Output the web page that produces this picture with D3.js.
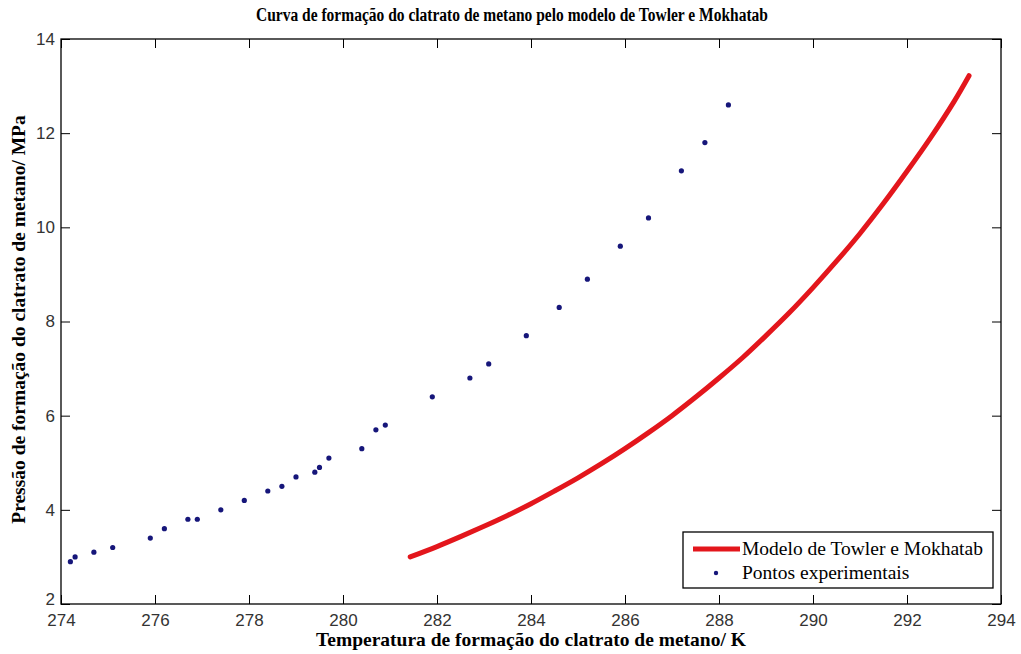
<!DOCTYPE html>
<html>
<head>
<meta charset="utf-8">
<script src="https://cdn.jsdelivr.net/npm/d3@7"></script>
<style>
  html, body { margin: 0; padding: 0; background: #fff; }
  svg { display: block; }
</style>
</head>
<body>
<svg id="chart" width="1021" height="654"></svg>
<script>
// Experimental hydrate formation points (temperature in K, pressure in MPa)
const expTemp = [274.2, 274.3, 274.7, 275.1, 275.9, 276.2, 276.7, 276.9, 277.4, 277.9,
                 278.4, 278.7, 279.0, 279.4, 279.5, 279.7, 280.4, 280.7, 280.9, 281.9,
                 282.7, 283.1, 283.9, 284.6, 285.2, 285.9, 286.5, 287.2, 287.7, 288.2];
const expPress = [2.9, 3.0, 3.1, 3.2, 3.4, 3.6, 3.8, 3.8, 4.0, 4.2,
                  4.4, 4.5, 4.7, 4.8, 4.9, 5.1, 5.3, 5.7, 5.8, 6.4,
                  6.8, 7.1, 7.7, 8.3, 8.9, 9.6, 10.2, 11.2, 11.8, 12.6];

// Towler & Mokhatab model curve
const modelTemp = [281.43, 282.0, 282.5, 283.0, 283.5, 284.0, 284.5, 285.0, 285.5, 286.0,
                   286.5, 287.0, 287.5, 288.0, 288.5, 289.0, 289.5, 290.0, 290.5, 291.0,
                   291.5, 292.0, 292.5, 293.0, 293.32];
const modelPress = [3.00, 3.22, 3.43, 3.65, 3.88, 4.13, 4.40, 4.68, 4.98, 5.30,
                    5.64, 6.00, 6.39, 6.80, 7.23, 7.70, 8.19, 8.72, 9.28, 9.87,
                    10.51, 11.19, 11.90, 12.67, 13.22];

const xTicks = [274, 276, 278, 280, 282, 284, 286, 288, 290, 292, 294];
const yTicks = [2, 4, 6, 8, 10, 12, 14];

const titleText = "Curva de formação do clatrato de metano pelo modelo de Towler e Mokhatab";
const xLabelText = "Temperatura de formação do clatrato de metano/ K";
const yLabelText = "Pressão de formação do clatrato de metano/ MPa";
const legendLabels = ["Modelo de Towler e Mokhatab", "Pontos experimentais"];

const svg = d3.select("#chart");
const plot = { left: 61, right: 1001, top: 39, bottom: 604 };

const x = d3.scaleLinear().domain([274, 294]).range([plot.left, plot.right]);
const y = d3.scaleLinear().domain([2, 14]).range([plot.bottom, plot.top]);

const tickFont = "'Liberation Sans', Arial, sans-serif";
const serif = "'Liberation Serif', 'Times New Roman', serif";

// Axes with inward ticks on all four sides
function styleAxis(g) {
  g.select(".domain").remove();
  g.selectAll(".tick line").attr("stroke", "#000").attr("stroke-width", 1);
  g.selectAll(".tick text")
    .attr("font-family", tickFont)
    .attr("font-size", 17)
    .attr("fill", "#333");
}

svg.append("g")
  .attr("transform", `translate(0,${plot.bottom})`)
  .call(d3.axisBottom(x).tickValues(xTicks).tickSizeInner(-9).tickSizeOuter(0).tickPadding(10).tickFormat(d3.format("d")))
  .call(styleAxis);

svg.append("g")
  .attr("transform", `translate(0,${plot.top})`)
  .call(d3.axisTop(x).tickValues(xTicks).tickSizeInner(-9).tickSizeOuter(0).tickFormat(""))
  .call(styleAxis);

const leftAxis = svg.append("g")
  .attr("transform", `translate(${plot.left},0)`)
  .call(d3.axisLeft(y).tickValues(yTicks).tickSizeInner(-9).tickSizeOuter(0).tickPadding(6).tickFormat(d3.format("d")))
  .call(styleAxis);
// lowest y label sits just above the x labels
leftAxis.selectAll(".tick text").filter(d => d === 2).attr("dy", "0.05em");

svg.append("g")
  .attr("transform", `translate(${plot.right},0)`)
  .call(d3.axisRight(y).tickValues(yTicks).tickSizeInner(-9).tickSizeOuter(0).tickFormat(""))
  .call(styleAxis);

// Plot frame
svg.append("rect")
  .attr("x", plot.left).attr("y", plot.top)
  .attr("width", plot.right - plot.left).attr("height", plot.bottom - plot.top)
  .attr("fill", "none").attr("stroke", "#000").attr("stroke-width", 1.3);

// Model curve
const modelData = modelTemp.map((t, i) => ({ t, p: modelPress[i] }));
svg.append("path")
  .datum(modelData)
  .attr("fill", "none")
  .attr("stroke", "#e3161c")
  .attr("stroke-width", 5)
  .attr("stroke-linecap", "round")
  .attr("d", d3.line().x(d => x(d.t)).y(d => y(d.p)).curve(d3.curveCatmullRom));

// Experimental points
const expData = expTemp.map((t, i) => ({ t, p: expPress[i] }));
svg.append("g").selectAll("circle")
  .data(expData)
  .join("circle")
  .attr("cx", d => x(d.t))
  .attr("cy", d => y(d.p))
  .attr("r", 2.6)
  .attr("fill", "#16167a");

// Title (condensed bold serif) and axis labels
svg.append("text")
  .attr("x", 512).attr("y", 21)
  .attr("text-anchor", "middle")
  .attr("font-family", serif)
  .attr("font-weight", "bold")
  .attr("font-size", 18.5)
  .attr("textLength", 512)
  .attr("lengthAdjust", "spacingAndGlyphs")
  .text(titleText);

svg.append("text")
  .attr("x", 531).attr("y", 646)
  .attr("text-anchor", "middle")
  .attr("font-family", serif)
  .attr("font-weight", "bold")
  .attr("font-size", 19.5)
  .text(xLabelText);

svg.append("text")
  .attr("transform", `translate(25,${(plot.top + plot.bottom) / 2 - 2}) rotate(-90)`)
  .attr("text-anchor", "middle")
  .attr("font-family", serif)
  .attr("font-weight", "bold")
  .attr("font-size", 19.5)
  .text(yLabelText);

// Legend
const legend = svg.append("g").attr("transform", "translate(683,532)");
legend.append("rect")
  .attr("width", 310).attr("height", 56)
  .attr("fill", "#fff").attr("stroke", "#000").attr("stroke-width", 1.3);
legend.append("line")
  .attr("x1", 10).attr("x2", 57).attr("y1", 17).attr("y2", 17)
  .attr("stroke", "#e3161c").attr("stroke-width", 5);
legend.append("circle")
  .attr("cx", 33).attr("cy", 41).attr("r", 2.2).attr("fill", "#16167a");
legend.selectAll("text.lbl")
  .data(legendLabels)
  .join("text")
  .attr("class", "lbl")
  .attr("x", 59)
  .attr("y", (d, i) => 23 + i * 24)
  .attr("font-family", serif)
  .attr("font-size", 19.5)
  .text(d => d);
</script>
</body>
</html>
